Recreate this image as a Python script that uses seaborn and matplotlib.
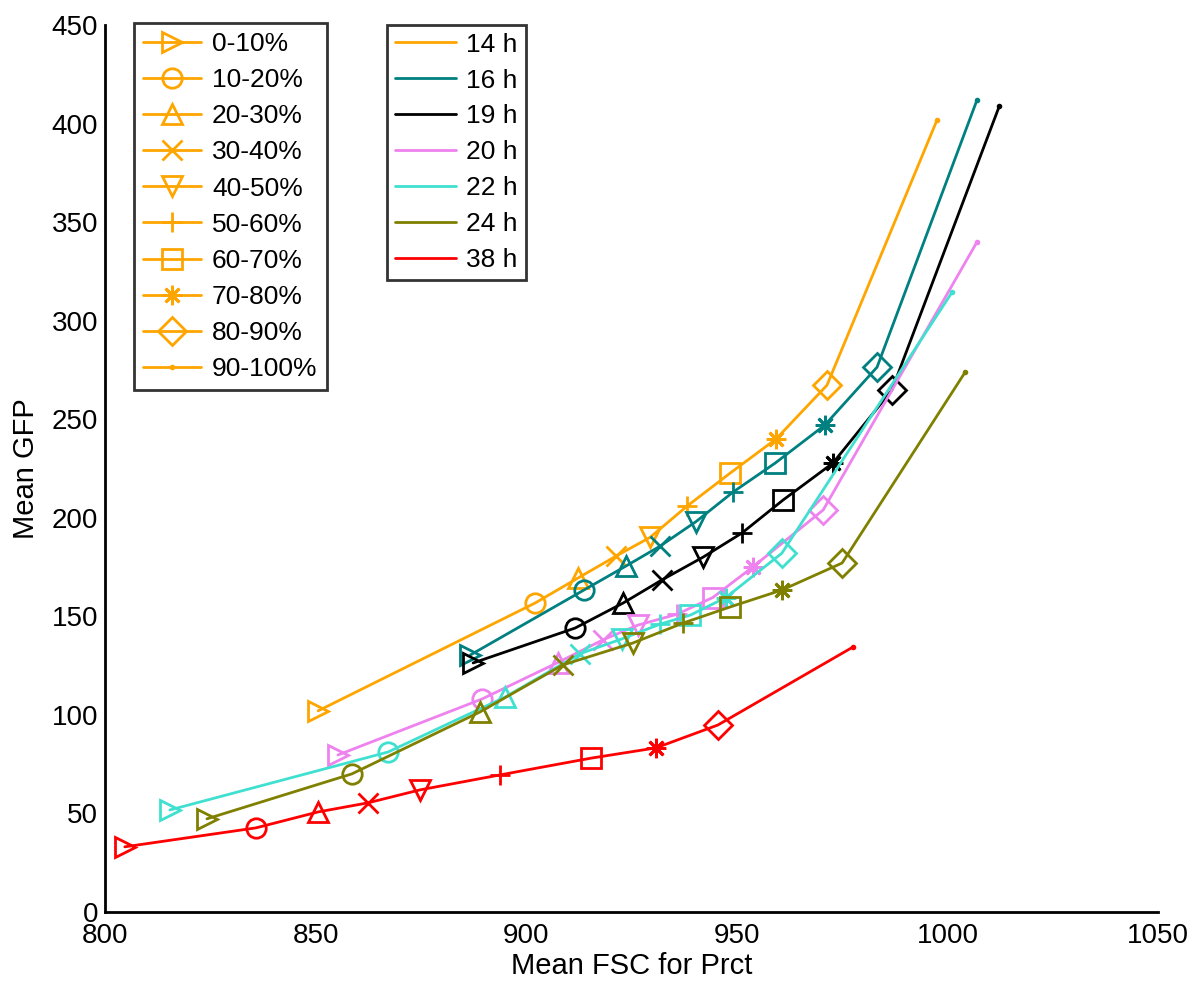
import matplotlib
matplotlib.use('Agg')
import matplotlib.pyplot as plt
import numpy as np
import pandas as pd
import seaborn as sns
from matplotlib.lines import Line2D

sns.set_style('white')
plt.rcParams['font.family'] = ['Liberation Sans', 'DejaVu Sans']
plt.rcParams['text.color'] = 'black'
plt.rcParams['axes.labelcolor'] = 'black'
plt.rcParams['xtick.color'] = 'black'
plt.rcParams['ytick.color'] = 'black'

# percentile bins (one marker each) and time points (one colour each)
bins = ['0-10%', '10-20%', '20-30%', '30-40%', '40-50%', '50-60%',
        '60-70%', '70-80%', '80-90%', '90-100%']
times = ['14 h', '16 h', '19 h', '20 h', '22 h', '24 h', '38 h']
colores = ['orange', 'teal', 'black', 'violet', 'turquoise', 'olive', 'red']
marcadores = ['>', 'o', '^', 'x', 'v', '+', 's', (8, 2, 0), 'D', '.']

fsc_14 = [850.6, 902.1, 912.3, 921.3, 929.4, 938.2, 948.4, 959.3, 971.4, 997.5]
gfp_14 = [102.0, 156.7, 169.4, 180.5, 190.0, 205.9, 222.6, 239.9, 267.2, 401.6]
fsc_16 = [886.7, 913.7, 923.7, 931.8, 940.3, 949.1, 959.1, 970.9, 983.3, 1007.0]
gfp_16 = [130.3, 163.3, 175.5, 185.6, 198.0, 213.0, 227.7, 247.0, 276.4, 411.8]
fsc_19 = [887.4, 911.6, 923.0, 932.2, 942.0, 951.2, 961.0, 972.8, 986.8, 1012.3]
gfp_19 = [126.3, 144.0, 156.7, 168.4, 180.0, 192.2, 209.0, 227.7, 264.7, 408.7]
fsc_20 = [855.3, 889.5, 907.5, 918.2, 926.5, 935.8, 944.3, 953.8, 970.5, 1007.0]
gfp_20 = [79.6, 108.0, 126.5, 138.0, 145.5, 151.0, 159.5, 175.0, 203.9, 339.8]
fsc_22 = [815.4, 867.2, 895.0, 912.8, 922.7, 931.8, 939.0, 947.4, 960.7, 1001.1]
gfp_22 = [51.7, 81.1, 109.0, 131.0, 138.5, 146.0, 150.6, 159.5, 182.0, 314.4]
fsc_24 = [824.2, 858.6, 889.0, 908.7, 925.3, 937.2, 948.4, 960.7, 975.0, 1004.2]
gfp_24 = [47.2, 70.0, 101.4, 125.3, 136.4, 146.5, 154.7, 163.3, 177.0, 273.8]
fsc_38 = [804.7, 835.8, 850.6, 862.4, 874.8, 893.8, 915.4, 930.8, 945.5, 977.6]
gfp_38 = [33.0, 42.6, 50.7, 55.3, 61.9, 69.5, 78.0, 83.2, 94.8, 134.4]

fsc = [fsc_14, fsc_16, fsc_19, fsc_20, fsc_22, fsc_24, fsc_38]
gfp = [gfp_14, gfp_16, gfp_19, gfp_20, gfp_22, gfp_24, gfp_38]

filas = []
for t, xs, ys in zip(times, fsc, gfp):
    for b, x, y in zip(bins, xs, ys):
        filas.append({'time': t, 'bin': b, 'FSC': x, 'GFP': y})
df = pd.DataFrame(filas)

fig = plt.figure(figsize=(12, 9.89), dpi=100)
ax = fig.add_axes([0.0875, 0.078, 0.8775, 0.8967])

lw = 2.0
ms_big = 14
for t, c in zip(times, colores):
    sub = df[df['time'] == t]
    sns.lineplot(data=sub, x='FSC', y='GFP', color=c, sort=False,
                 linewidth=lw, ax=ax, legend=False)
    for b, m in zip(bins, marcadores):
        p = sub[sub['bin'] == b]
        ms = 4 if m == '.' else ms_big
        ax.plot(p['FSC'], p['GFP'], linestyle='none', marker=m,
                markersize=ms, markerfacecolor='none' if m != '.' else c,
                markeredgecolor=c, markeredgewidth=lw)

ax.set_xlim(800, 1050)
ax.set_ylim(0, 450)
ax.set_xticks(np.arange(800, 1051, 50))
ax.set_yticks(np.arange(0, 451, 50))
ax.set_xlabel('Mean FSC for Prct', fontsize=21, labelpad=2)
ax.set_ylabel('Mean GFP', fontsize=21, labelpad=8)
for lab in ax.get_xticklabels():
    lab.set_fontsize(20)
for lab in ax.get_yticklabels():
    lab.set_fontsize(20)
ax.tick_params(direction='in', length=8, width=1.8, pad=5)
ax.tick_params(axis='x', pad=8)
sns.despine(ax=ax)
for s in ['left', 'bottom']:
    ax.spines[s].set_linewidth(2.0)
    ax.spines[s].set_color('black')

# legend 1: markers for percentile bins
h1 = [Line2D([], [], color='orange', linewidth=lw, marker=m,
             markersize=4 if m == '.' else ms_big,
             markerfacecolor='orange' if m == '.' else 'none',
             markeredgewidth=lw) for m in marcadores]
leg1 = fig.legend(h1, bins, loc='upper left', bbox_to_anchor=(0.1117, 0.977),
                  fontsize=19, frameon=True, fancybox=False, handlelength=2.2,
                  labelspacing=0.46, borderpad=0.35, handletextpad=0.4,
                  borderaxespad=0)
leg1.get_frame().set_edgecolor('black')
leg1.get_frame().set_linewidth(2.0)

# legend 2: colours for time points
h2 = [Line2D([], [], color=c, linewidth=lw) for c in colores]
leg2 = fig.legend(h2, times, loc='upper left', bbox_to_anchor=(0.3225, 0.975),
                  fontsize=19, frameon=True, fancybox=False, handlelength=2.3,
                  labelspacing=0.45, borderpad=0.3, handletextpad=0.4,
                  borderaxespad=0)
leg2.get_frame().set_edgecolor('black')
leg2.get_frame().set_linewidth(2.0)

fig.savefig('out.png', dpi=100)
